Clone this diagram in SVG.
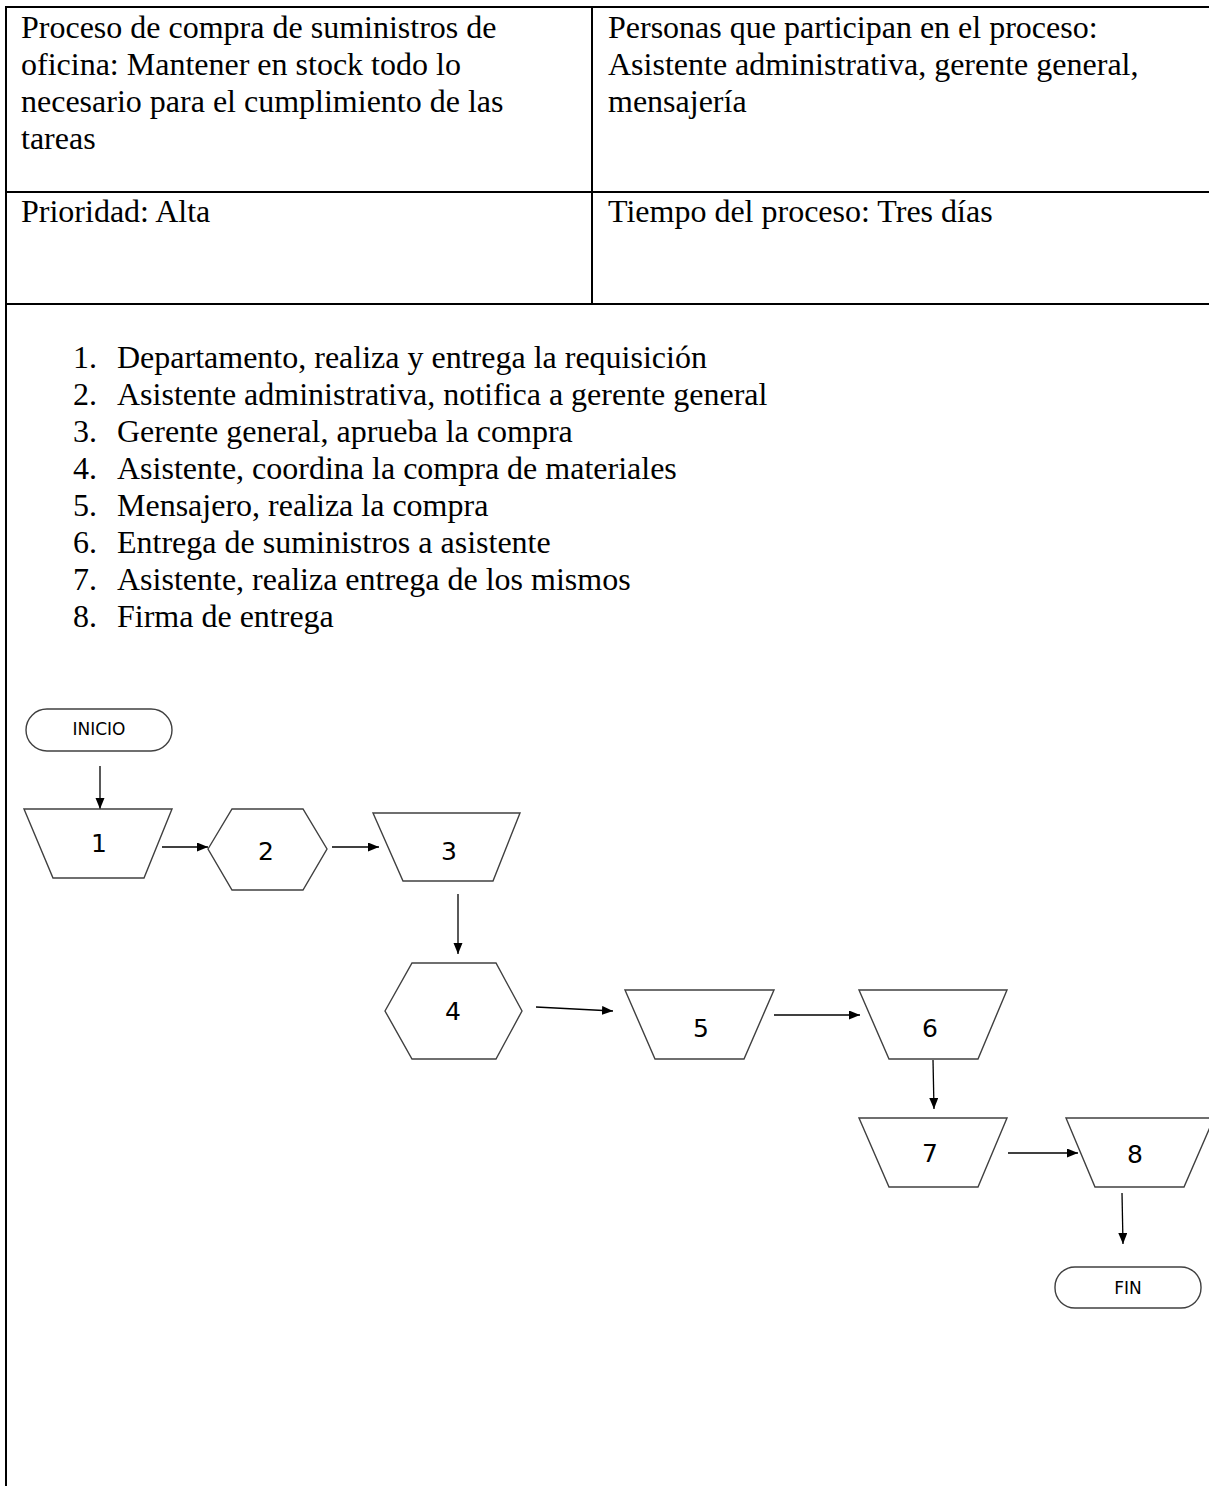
<svg xmlns="http://www.w3.org/2000/svg" width="1209" height="1486" viewBox="0 0 1209 1486">
<style>
.t{font-family:"Liberation Serif","Times New Roman",serif;font-size:32px;fill:#000}
.n{font-family:"DejaVu Sans","Liberation Sans",sans-serif;font-size:25px;fill:#000;text-anchor:middle}
.lbl{font-family:"DejaVu Sans","Liberation Sans",sans-serif;font-size:17px;fill:#000;text-anchor:middle}
.tb{stroke:#000;stroke-width:2;fill:none}
.sh{fill:#fff;stroke:#404040;stroke-width:1.4}
.c{stroke:#000;stroke-width:1.3;fill:none;marker-end:url(#ah)}
</style>
<defs>
<marker id="ah" markerUnits="userSpaceOnUse" markerWidth="12" markerHeight="10" refX="11" refY="4.5" orient="auto">
<path d="M0,0 L11,4.5 L0,9 z" fill="#000"/>
</marker>
</defs>
<rect width="1209" height="1486" fill="#fff"/>
<g id="table">
<line class="tb" x1="5" y1="7" x2="1209" y2="7"/>
<line class="tb" x1="6" y1="6" x2="6" y2="1486"/>
<line class="tb" x1="592" y1="7" x2="592" y2="304"/>
<line class="tb" x1="5" y1="192" x2="1209" y2="192"/>
<line class="tb" x1="5" y1="304" x2="1209" y2="304"/>
<text class="t" x="21" y="38">Proceso de compra de suministros de</text>
<text class="t" x="21" y="75">oficina: Mantener en stock todo lo</text>
<text class="t" x="21" y="112">necesario para el cumplimiento de las</text>
<text class="t" x="21" y="149">tareas</text>
<text class="t" x="608" y="38">Personas que participan en el proceso:</text>
<text class="t" x="608" y="75">Asistente administrativa, gerente general,</text>
<text class="t" x="608" y="112">mensajería</text>
<text class="t" x="21" y="222">Prioridad: Alta</text>
<text class="t" x="608" y="222">Tiempo del proceso: Tres días</text>
</g>
<g id="list">
<text class="t" x="73" y="368">1.</text><text class="t" x="117" y="368">Departamento, realiza y entrega la requisición</text>
<text class="t" x="73" y="405">2.</text><text class="t" x="117" y="405">Asistente administrativa, notifica a gerente general</text>
<text class="t" x="73" y="442">3.</text><text class="t" x="117" y="442">Gerente general, aprueba la compra</text>
<text class="t" x="73" y="479">4.</text><text class="t" x="117" y="479">Asistente, coordina la compra de materiales</text>
<text class="t" x="73" y="516">5.</text><text class="t" x="117" y="516">Mensajero, realiza la compra</text>
<text class="t" x="73" y="553">6.</text><text class="t" x="117" y="553">Entrega de suministros a asistente</text>
<text class="t" x="73" y="590">7.</text><text class="t" x="117" y="590">Asistente, realiza entrega de los mismos</text>
<text class="t" x="73" y="627">8.</text><text class="t" x="117" y="627">Firma de entrega</text>
</g>
<g id="connectors">
<line class="c" x1="100" y1="766" x2="100" y2="809"/>
<line class="c" x1="162" y1="847" x2="208" y2="847"/>
<line class="c" x1="332" y1="847" x2="379" y2="847"/>
<line class="c" x1="458" y1="894" x2="458" y2="954"/>
<line class="c" x1="536" y1="1007" x2="613" y2="1011"/>
<line class="c" x1="774" y1="1015" x2="860" y2="1015"/>
<line class="c" x1="933" y1="1060" x2="934" y2="1109"/>
<line class="c" x1="1008" y1="1153" x2="1078" y2="1153"/>
<line class="c" x1="1122" y1="1193" x2="1123" y2="1244"/>
</g>
<g id="inicio"><rect class="sh" x="26" y="709" width="146" height="42" rx="21"/><text class="lbl" x="99" y="735">INICIO</text></g>
<g id="n1"><polygon class="sh" points="24,809 172,809 144,878 53,878"/><text class="n" x="99" y="852">1</text></g>
<g id="n2"><polygon class="sh" points="208,849 232,809 303,809 327,849 303,890 232,890"/><text class="n" x="266" y="860">2</text></g>
<g id="n3"><polygon class="sh" points="373,813 520,813 493,881 403,881"/><text class="n" x="449" y="860">3</text></g>
<g id="n4"><polygon class="sh" points="385,1011 412,963 496,963 522,1011 496,1059 412,1059"/><text class="n" x="453" y="1020">4</text></g>
<g id="n5"><polygon class="sh" points="625,990 774,990 744,1059 655,1059"/><text class="n" x="701" y="1037">5</text></g>
<g id="n6"><polygon class="sh" points="859,990 1007,990 978,1059 889,1059"/><text class="n" x="930" y="1037">6</text></g>
<g id="n7"><polygon class="sh" points="859,1118 1007,1118 978,1187 889,1187"/><text class="n" x="930" y="1162">7</text></g>
<g id="n8"><polygon class="sh" points="1066,1118 1214,1118 1184,1187 1095,1187"/><text class="n" x="1135" y="1163">8</text></g>
<g id="fin"><rect class="sh" x="1055" y="1267" width="146" height="41" rx="20"/><text class="lbl" x="1128" y="1294">FIN</text></g>
</svg>
